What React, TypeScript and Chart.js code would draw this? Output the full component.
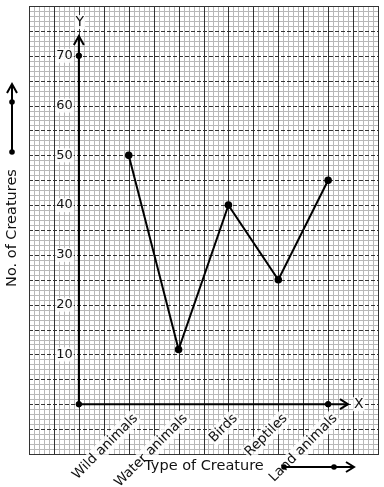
import { useEffect, useRef } from "react";
import Chart from "chart.js/auto";

const categories = ["Wild animals", "Water animals", "Birds", "Reptiles", "Land animals"];
const creatureCounts = [50, 11, 40, 25, 45];
const yTickValues = [10, 20, 30, 40, 50, 60, 70];
const axisMarkers = [
  { x: 0, y: 0 },
  { x: 0, y: 70 },
  { x: 5, y: 0 },
];
const xTitle = "Type of Creature";
const yTitle = "No. of Creatures";

const FAMILY = "'DejaVu Sans', sans-serif";
const TICK_FONT = `13px ${FAMILY}`;
const AXIS_LETTER_FONT = `14px ${FAMILY}`;
const CAT_FONT = `13.5px ${FAMILY}`;
const TITLE_FONT = `14.5px ${FAMILY}`;

function labelWithBg(ctx: CanvasRenderingContext2D, text: string, x: number, y: number, align: CanvasTextAlign, font: string) {
  ctx.save();
  ctx.font = font;
  const w = ctx.measureText(text).width;
  let left = x;
  if (align === "right") left = x - w;
  else if (align === "center") left = x - w / 2;
  ctx.fillStyle = "rgba(255,255,255,0.85)";
  ctx.fillRect(left - 1, y - 7, w + 2, 14);
  ctx.fillStyle = "#111";
  ctx.textAlign = align;
  ctx.textBaseline = "middle";
  ctx.fillText(text, x, y);
  ctx.restore();
}

function arrowHead(ctx: CanvasRenderingContext2D, tx: number, ty: number, dir: "up" | "right") {
  ctx.beginPath();
  if (dir === "up") {
    ctx.moveTo(tx - 5, ty + 9);
    ctx.lineTo(tx, ty);
    ctx.lineTo(tx + 5, ty + 9);
  } else {
    ctx.moveTo(tx - 8, ty - 5);
    ctx.lineTo(tx, ty);
    ctx.lineTo(tx - 8, ty + 5);
  }
  ctx.stroke();
}

function dot(ctx: CanvasRenderingContext2D, x: number, y: number) {
  ctx.beginPath();
  ctx.arc(x, y, 2.8, 0, Math.PI * 2);
  ctx.fill();
}

const graphPaper = {
  id: "graphPaper",
  beforeDatasetsDraw(chart: any) {
    const { ctx, chartArea: a, scales } = chart;
    const xs = scales.x;
    const ys = scales.y;
    ctx.save();
    ctx.fillStyle = "#fff";
    ctx.fillRect(a.left, a.top, a.right - a.left, a.bottom - a.top);

    // minor lines
    ctx.lineWidth = 1;
    ctx.strokeStyle = "#b8b8b8";
    ctx.beginPath();
    for (let i = Math.round(xs.min * 10); i <= Math.round(xs.max * 10); i++) {
      if (i % 5 === 0) continue;
      const px = Math.round(xs.getPixelForValue(i / 10)) + 0.5;
      ctx.moveTo(px, a.top);
      ctx.lineTo(px, a.bottom);
    }
    for (let v = ys.min; v <= ys.max; v++) {
      if (v % 5 === 0) continue;
      const py = Math.round(ys.getPixelForValue(v)) + 0.5;
      ctx.moveTo(a.left, py);
      ctx.lineTo(a.right, py);
    }
    ctx.stroke();

    // major vertical (solid)
    ctx.strokeStyle = "#333";
    ctx.beginPath();
    for (let i = Math.round(xs.min * 2); i <= Math.round(xs.max * 2); i++) {
      const px = Math.round(xs.getPixelForValue(i / 2)) + 0.5;
      ctx.moveTo(px, a.top);
      ctx.lineTo(px, a.bottom);
    }
    ctx.stroke();

    // major horizontal (dashed)
    ctx.setLineDash([4, 2]);
    ctx.beginPath();
    for (let v = ys.min; v <= ys.max; v += 5) {
      const py = Math.round(ys.getPixelForValue(v)) + 0.5;
      ctx.moveTo(a.left, py);
      ctx.lineTo(a.right, py);
    }
    ctx.stroke();
    ctx.setLineDash([]);

    // frame
    ctx.strokeRect(Math.round(a.left) + 0.5, Math.round(a.top) + 0.5, Math.round(a.right - a.left), Math.round(a.bottom - a.top));

    // axes
    const ox = xs.getPixelForValue(0);
    const oy = ys.getPixelForValue(0);
    ctx.strokeStyle = "#000";
    ctx.lineWidth = 2;
    ctx.beginPath();
    ctx.moveTo(ox, oy);
    ctx.lineTo(ox, a.top + 30);
    ctx.moveTo(ox, oy);
    ctx.lineTo(a.right - 30, oy);
    ctx.stroke();
    arrowHead(ctx, ox, a.top + 30, "up");
    arrowHead(ctx, a.right - 30, oy, "right");

    labelWithBg(ctx, "Y", ox + 1, a.top + 16, "center", AXIS_LETTER_FONT);
    labelWithBg(ctx, "X", a.right - 24, oy, "left", AXIS_LETTER_FONT);

    // y tick labels
    yTickValues.forEach((v) => {
      labelWithBg(ctx, String(v), ox - 6, ys.getPixelForValue(v), "right", TICK_FONT);
    });

    // category labels
    categories.forEach((c, i) => {
      const px = xs.getPixelForValue(i + 1);
      ctx.save();
      ctx.translate(px + 7, oy + 12);
      ctx.rotate(-Math.PI / 4);
      ctx.font = CAT_FONT;
      const w = ctx.measureText(c).width;
      ctx.fillStyle = "rgba(255,255,255,0.85)";
      ctx.fillRect(-w - 1, -8, w + 2, 16);
      ctx.fillStyle = "#111";
      ctx.textAlign = "right";
      ctx.textBaseline = "middle";
      ctx.fillText(c, 0, 0);
      ctx.restore();
    });

    // titles
    ctx.font = TITLE_FONT;
    ctx.fillStyle = "#111";
    ctx.textAlign = "center";
    ctx.textBaseline = "middle";
    ctx.fillText(xTitle, 204, 466);
    ctx.save();
    ctx.translate(12, 228);
    ctx.rotate(-Math.PI / 2);
    ctx.fillText(yTitle, 0, 0);
    ctx.restore();

    // direction arrows
    ctx.strokeStyle = "#000";
    ctx.fillStyle = "#000";
    ctx.lineWidth = 2;
    ctx.beginPath();
    ctx.moveTo(12, 152);
    ctx.lineTo(12, 84);
    ctx.stroke();
    arrowHead(ctx, 12, 84, "up");
    dot(ctx, 12, 152);
    dot(ctx, 12, 102);

    ctx.beginPath();
    ctx.moveTo(284, 467);
    ctx.lineTo(354, 467);
    ctx.stroke();
    arrowHead(ctx, 354, 467, "right");
    dot(ctx, 284, 467);
    dot(ctx, 334, 467);

    ctx.restore();
  },
};

export default function App() {
  const ref = useRef<HTMLCanvasElement>(null);
  useEffect(() => {
    if (!ref.current) return;
    const chart = new Chart(ref.current, {
      type: "line",
      data: {
        datasets: [
          {
            data: categories.map((c, i) => ({ x: i + 1, y: creatureCounts[i] })),
            borderColor: "#000",
            borderWidth: 2,
            pointRadius: 2.8,
            pointBackgroundColor: "#000",
            pointBorderColor: "#000",
            tension: 0,
          },
          {
            data: axisMarkers,
            showLine: false,
            pointRadius: 2.8,
            pointBackgroundColor: "#000",
            pointBorderColor: "#000",
          },
        ],
      },
      options: {
        responsive: false,
        animation: false,
        layout: { padding: { left: 29, top: 4, right: 5, bottom: 33 } },
        plugins: { legend: { display: false }, tooltip: { enabled: false } },
        scales: {
          x: { type: "linear", min: -1, max: 6, display: false },
          y: { type: "linear", min: -10, max: 80, display: false },
        },
      },
      plugins: [graphPaper],
    });
    return () => chart.destroy();
  }, []);
  return (
    <div style={{ position: "fixed", left: 0, top: 0, width: 384, height: 487, background: "#fff" }}>
      <canvas ref={ref} width={384} height={487} style={{ width: 384, height: 487, display: "block" }} />
    </div>
  );
}
